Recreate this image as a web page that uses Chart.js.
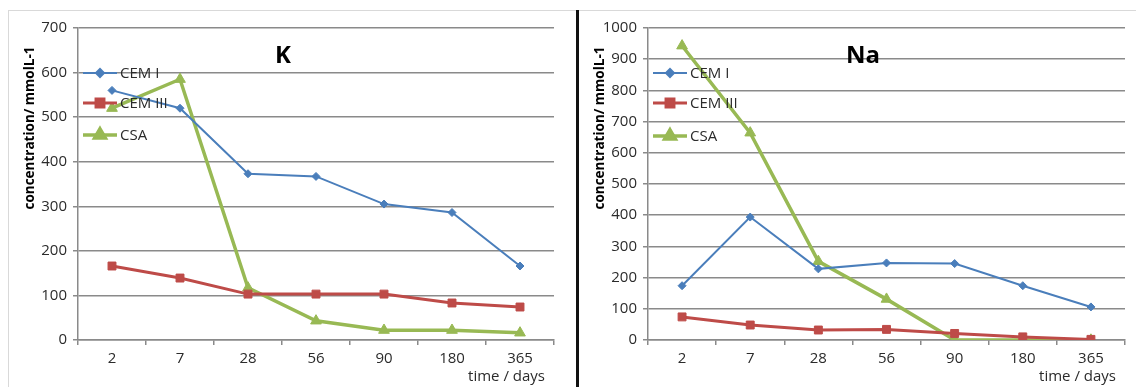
<!DOCTYPE html>
<html>
<head>
<meta charset="utf-8">
<script src="https://cdn.jsdelivr.net/npm/chart.js@4.4.1/dist/chart.umd.min.js"></script>
<style>
    body { margin: 0; background: #fff; }
    #wrap { position: relative; width: 1136px; height: 387px; overflow: hidden; background: #fff; }
    #kBox { position: absolute; left: 0; top: 0; width: 576px; height: 387px; }
    #naBox { position: absolute; left: 579px; top: 0; width: 557px; height: 387px; }
    .frameTop { position: absolute; left: 8px; top: 10px; width: 1128px; height: 1px; background: #d9d9d9; }
    .frameLeft { position: absolute; left: 8px; top: 10px; width: 1px; height: 377px; background: #d9d9d9; }
    .divider { position: absolute; left: 576px; top: 10px; width: 3px; height: 377px; background: #111; }
</style>
</head>
<body>
<div id="wrap">
    <div id="kBox"><canvas id="kChart"></canvas></div>
    <div id="naBox"><canvas id="naChart"></canvas></div>
    <div class="frameTop"></div>
    <div class="frameLeft"></div>
    <div class="divider"></div>
</div>
<script>
// data
const days = ['2', '7', '28', '56', '90', '180', '365'];
const seriesNames = ['CEM I', 'CEM III', 'CSA'];

const kCem1 = [560, 520, 373, 367, 305, 286, 166];
const kCem3 = [166, 139, 103, 103, 103, 83, 74];
const kCsa = [520, 585, 117, 43, 22, 22, 16];

const naCem1 = [174, 394, 228, 247, 245, 174, 106];
const naCem3 = [74, 48, 32, 34, 21, 10, 2];
const naCsa = [943, 664, 252, 131, 0, 0, 0];

const seriesColors = ['#4a7ebb', '#be4b48', '#98b954'];
const seriesPoints = ['rectRot', 'rect', 'triangle'];
const seriesRadius = [4, 5.6, 6.2];
const seriesWidths = [2, 3, 3.5];

const textColor = '#2b2b2b';
const gridColor = '#8a8a8a';
const tickFont = { family: '"Open Sans"', size: 15 };

function makeDatasets(values) {
    return values.map((data, i) => ({
        label: seriesNames[i],
        data: data,
        borderColor: seriesColors[i],
        backgroundColor: seriesColors[i],
        borderWidth: seriesWidths[i],
        pointStyle: seriesPoints[i],
        pointRadius: seriesRadius[i],
        pointBorderWidth: 1,
        pointBackgroundColor: seriesColors[i],
        pointBorderColor: seriesColors[i],
        tension: 0
    }));
}

// title, axis titles and legend, drawn the way the spreadsheet chart places them
const chartDecor = {
    id: 'chartDecor',
    afterDatasetsDraw(chart, args, opts) {
        const ctx = chart.ctx;
        const area = chart.chartArea;
        ctx.save();

        ctx.fillStyle = '#000';
        ctx.font = 'bold 24px "Open Sans"';
        ctx.textAlign = 'center';
        ctx.textBaseline = 'middle';
        ctx.fillText(opts.title, area.left + opts.titleX, 56);

        // legend
        ctx.font = '15px "Open Sans"';
        ctx.textAlign = 'left';
        chart.data.datasets.forEach((ds, i) => {
            const y = opts.legendY[i];
            const x0 = area.left + 5;
            const x1 = area.left + 39;
            ctx.strokeStyle = ds.borderColor;
            ctx.lineWidth = ds.borderWidth;
            ctx.beginPath();
            ctx.moveTo(x0, y);
            ctx.lineTo(x1, y);
            ctx.stroke();
            ctx.fillStyle = ds.backgroundColor;
            Chart.helpers.drawPoint(ctx, {
                pointStyle: ds.pointStyle,
                radius: ds.pointRadius,
                rotation: 0,
                borderWidth: 1
            }, (x0 + x1) / 2, y);
            ctx.fill();
            ctx.fillStyle = textColor;
            ctx.fillText(ds.label, x1 + 3, y + 1);
        });

        // y axis title
        ctx.save();
        ctx.translate(opts.yTitleX, 128);
        ctx.rotate(-Math.PI / 2);
        ctx.font = 'bold 13.5px "Open Sans"';
        ctx.fillStyle = '#000';
        ctx.textAlign = 'center';
        ctx.textBaseline = 'middle';
        ctx.fillText('concentration/ mmolL-1', 0, 0);
        ctx.restore();

        // x axis title
        ctx.font = '15px "Open Sans"';
        ctx.fillStyle = textColor;
        ctx.textAlign = 'right';
        ctx.textBaseline = 'middle';
        ctx.fillText('time / days', area.right - 9, 377);

        ctx.restore();
    }
};

function makeChart(id, values, yMax, yStep, axisWidth, rightPad, decor) {
    const ctx = document.getElementById(id).getContext('2d');
    return new Chart(ctx, {
        type: 'line',
        data: { labels: days, datasets: makeDatasets(values) },
        options: {
            responsive: true,
            maintainAspectRatio: false,
            animation: false,
            layout: { padding: { left: 0, right: rightPad, top: 28, bottom: 0 } },
            plugins: {
                legend: { display: false },
                tooltip: { enabled: false },
                chartDecor: decor
            },
            scales: {
                x: {
                    offset: true,
                    grid: {
                        offset: true,
                        drawOnChartArea: false,
                        drawTicks: true,
                        tickLength: 5,
                        lineWidth: 1.5,
                        color: gridColor
                    },
                    border: { color: gridColor, width: 1.5 },
                    ticks: { color: textColor, font: tickFont, padding: 5 },
                    afterFit: scale => { scale.height = 47; }
                },
                y: {
                    min: 0,
                    max: yMax,
                    ticks: {
                        stepSize: yStep,
                        color: textColor,
                        font: tickFont,
                        padding: 6,
                        callback: value => String(value)
                    },
                    grid: { color: gridColor, lineWidth: 1.5, tickLength: 5 },
                    border: { color: gridColor, width: 1.5 },
                    afterFit: scale => { scale.width = axisWidth; }
                }
            }
        },
        plugins: [chartDecor]
    });
}

makeChart('kChart', [kCem1, kCem3, kCsa], 700, 100, 78, 22,
    { title: 'K', titleX: 205, legendY: [73, 103, 135], yTitleX: 30 });
makeChart('naChart', [naCem1, naCem3, naCsa], 1000, 100, 69, 11,
    { title: 'Na', titleX: 215, legendY: [73, 103, 136], yTitleX: 21 });
</script>
</body>
</html>
